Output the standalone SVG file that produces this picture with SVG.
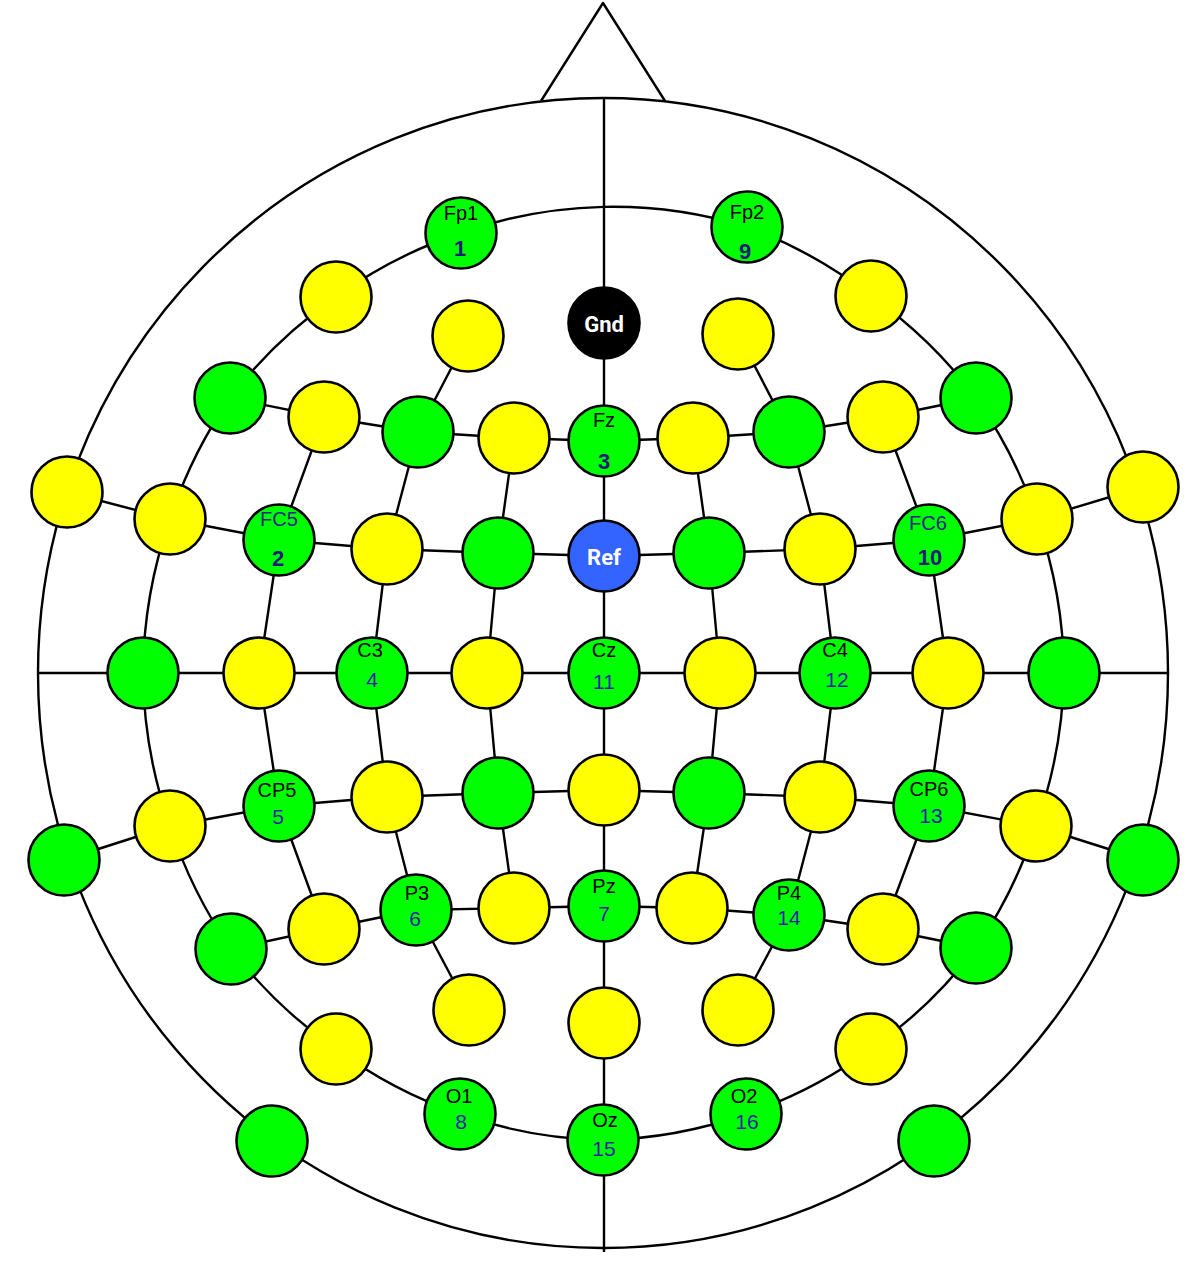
<svg xmlns="http://www.w3.org/2000/svg" width="1200" height="1269" viewBox="0 0 1200 1269">
<style>
.ln{fill:none;stroke:#000;stroke-width:2.4;stroke-linejoin:round}
.n{stroke:#000;stroke-width:2.6}
.g{fill:#00ff00}
.y{fill:#ffff00}
.k{fill:#000}
.b{fill:#3464ff}
.nm{font-family:"Liberation Sans",Arial,sans-serif;font-size:20px;fill:#000;text-anchor:middle}
.nmb{font-family:"Liberation Sans",Arial,sans-serif;font-size:20px;fill:#25258a;text-anchor:middle}
.num{font-family:"Liberation Sans",Arial,sans-serif;font-size:21px;fill:#2b1fa8;text-anchor:middle}
.numb{font-family:"Liberation Sans",Arial,sans-serif;font-size:22px;font-weight:bold;fill:#1c1c78;text-anchor:middle}
.wt{font-family:Roboto,"Liberation Sans",sans-serif;font-size:22px;font-weight:bold;fill:#fff;text-anchor:middle}
</style>
<rect width="1200" height="1269" fill="#fff"/>
<g id="connectors">
<polyline class="ln" points="541,101 603,3 665,101"/>
<ellipse class="ln" cx="603" cy="673" rx="565" ry="575"/>
<line class="ln" x1="604" y1="98" x2="604" y2="1252"/>
<line class="ln" x1="38" y1="673" x2="1168" y2="673"/>
<path class="ln" d="M747,227 A461,469 0 0 1 871,296 A461,469 0 0 1 976,398 A461,469 0 0 1 1037,519 A461,469 0 0 1 1064,673 A461,469 0 0 1 1036,826 A461,469 0 0 1 976,948 A461,469 0 0 1 871,1049 A461,469 0 0 1 746,1114 A461,469 0 0 1 603,1140 A461,469 0 0 1 460,1114 A461,469 0 0 1 336,1049 A461,469 0 0 1 231,949 A461,469 0 0 1 170,826 A461,469 0 0 1 143,673 A461,469 0 0 1 170,519 A461,469 0 0 1 230,398 A461,469 0 0 1 336,297 A461,469 0 0 1 461,233 A461,469 0 0 1 747,227"/>
<polyline class="ln" points="230,398 324,417 418,432 514,438 604,441 693,438 789,432 883,417 976,398"/>
<polyline class="ln" points="67,492 170,519 279,540 387,549 498,553 604,556 709,553 820,549 929,540 1037,519 1143,487"/>
<polyline class="ln" points="64,860 170,826 279,806 387,797 498,793 604,790 709,793 820,797 929,806 1036,826 1143,860"/>
<polyline class="ln" points="231,949 324,929 416,910 514,908 604,906 692,908 789,915 883,929 976,948"/>
<polyline class="ln" points="324,417 279,540 259,673 279,806 324,929"/>
<polyline class="ln" points="468,336 418,432 387,549 372,673 387,797 416,910 469,1010"/>
<polyline class="ln" points="514,438 498,553 487,673 498,793 514,908"/>
<polyline class="ln" points="693,438 709,553 720,673 709,793 692,908"/>
<polyline class="ln" points="738,334 789,432 820,549 835,673 820,797 789,915 738,1010"/>
<polyline class="ln" points="883,417 929,540 948,673 929,806 883,929"/>
</g>
<g id="Fp1"><circle class="n g" cx="461" cy="233" r="35.5"/><text class="nm" x="461" y="220">Fp1</text><text class="numb" x="460" y="256">1</text></g>
<g id="Fp2"><circle class="n g" cx="747" cy="227" r="35.5"/><text class="nm" x="747" y="219">Fp2</text><text class="numb" x="745" y="259">9</text></g>
<g id="Gnd"><circle class="n k" cx="604" cy="323" r="35.5"/><text class="wt" x="604" y="332">Gnd</text></g>
<g id="AF7"><circle class="n y" cx="336" cy="297" r="35.5"/></g>
<g id="AF8"><circle class="n y" cx="871" cy="296" r="35.5"/></g>
<g id="AF3"><circle class="n y" cx="468" cy="336" r="35.5"/></g>
<g id="AF4"><circle class="n y" cx="738" cy="334" r="35.5"/></g>
<g id="F7"><circle class="n g" cx="230" cy="398" r="35.5"/></g>
<g id="F5"><circle class="n y" cx="324" cy="417" r="35.5"/></g>
<g id="F3"><circle class="n g" cx="418" cy="432" r="35.5"/></g>
<g id="F1"><circle class="n y" cx="514" cy="438" r="35.5"/></g>
<g id="Fz"><circle class="n g" cx="604" cy="441" r="35.5"/><text class="nm" x="604" y="427">Fz</text><text class="numb" x="604" y="469">3</text></g>
<g id="F2"><circle class="n y" cx="693" cy="438" r="35.5"/></g>
<g id="F4"><circle class="n g" cx="789" cy="432" r="35.5"/></g>
<g id="F6"><circle class="n y" cx="883" cy="417" r="35.5"/></g>
<g id="F8"><circle class="n g" cx="976" cy="398" r="35.5"/></g>
<g id="F9"><circle class="n y" cx="67" cy="492" r="35.5"/></g>
<g id="FT7"><circle class="n y" cx="170" cy="519" r="35.5"/></g>
<g id="FC5"><circle class="n g" cx="279" cy="540" r="35.5"/><text class="nmb" x="279" y="526">FC5</text><text class="numb" x="278" y="566">2</text></g>
<g id="FC3"><circle class="n y" cx="387" cy="549" r="35.5"/></g>
<g id="FC1"><circle class="n g" cx="498" cy="553" r="35.5"/></g>
<g id="Ref"><circle class="n b" cx="604" cy="556" r="35.5"/><text class="wt" x="604" y="565">Ref</text></g>
<g id="FC2"><circle class="n g" cx="709" cy="553" r="35.5"/></g>
<g id="FC4"><circle class="n y" cx="820" cy="549" r="35.5"/></g>
<g id="FC6"><circle class="n g" cx="929" cy="540" r="35.5"/><text class="nmb" x="928" y="530">FC6</text><text class="numb" x="930" y="565">10</text></g>
<g id="FT8"><circle class="n y" cx="1037" cy="519" r="35.5"/></g>
<g id="F10"><circle class="n y" cx="1143" cy="487" r="35.5"/></g>
<g id="T7"><circle class="n g" cx="143" cy="673" r="35.5"/></g>
<g id="C5"><circle class="n y" cx="259" cy="673" r="35.5"/></g>
<g id="C3"><circle class="n g" cx="372" cy="673" r="35.5"/><text class="nm" x="370" y="657">C3</text><text class="num" x="372" y="687">4</text></g>
<g id="C1"><circle class="n y" cx="487" cy="673" r="35.5"/></g>
<g id="Cz"><circle class="n g" cx="604" cy="673" r="35.5"/><text class="nm" x="604" y="657">Cz</text><text class="num" x="604" y="689">11</text></g>
<g id="C2"><circle class="n y" cx="720" cy="673" r="35.5"/></g>
<g id="C4"><circle class="n g" cx="835" cy="673" r="35.5"/><text class="nm" x="835" y="657">C4</text><text class="num" x="837" y="687">12</text></g>
<g id="C6"><circle class="n y" cx="948" cy="673" r="35.5"/></g>
<g id="T8"><circle class="n g" cx="1064" cy="673" r="35.5"/></g>
<g id="TP9"><circle class="n g" cx="64" cy="860" r="35.5"/></g>
<g id="TP7"><circle class="n y" cx="170" cy="826" r="35.5"/></g>
<g id="CP5"><circle class="n g" cx="279" cy="806" r="35.5"/><text class="nm" x="277" y="797">CP5</text><text class="num" x="278" y="824">5</text></g>
<g id="CP3"><circle class="n y" cx="387" cy="797" r="35.5"/></g>
<g id="CP1"><circle class="n g" cx="498" cy="793" r="35.5"/></g>
<g id="CPz"><circle class="n y" cx="604" cy="790" r="35.5"/></g>
<g id="CP2"><circle class="n g" cx="709" cy="793" r="35.5"/></g>
<g id="CP4"><circle class="n y" cx="820" cy="797" r="35.5"/></g>
<g id="CP6"><circle class="n g" cx="929" cy="806" r="35.5"/><text class="nm" x="929" y="796">CP6</text><text class="num" x="931" y="823">13</text></g>
<g id="TP8"><circle class="n y" cx="1036" cy="826" r="35.5"/></g>
<g id="TP10"><circle class="n g" cx="1143" cy="860" r="35.5"/></g>
<g id="P7"><circle class="n g" cx="231" cy="949" r="35.5"/></g>
<g id="P5"><circle class="n y" cx="324" cy="929" r="35.5"/></g>
<g id="P3"><circle class="n g" cx="416" cy="910" r="35.5"/><text class="nm" x="417" y="900">P3</text><text class="num" x="415" y="926">6</text></g>
<g id="P1"><circle class="n y" cx="514" cy="908" r="35.5"/></g>
<g id="Pz"><circle class="n g" cx="604" cy="906" r="35.5"/><text class="nm" x="604" y="893">Pz</text><text class="num" x="604" y="921">7</text></g>
<g id="P2"><circle class="n y" cx="692" cy="908" r="35.5"/></g>
<g id="P4"><circle class="n g" cx="789" cy="915" r="35.5"/><text class="nm" x="789" y="900">P4</text><text class="num" x="789" y="925">14</text></g>
<g id="P6"><circle class="n y" cx="883" cy="929" r="35.5"/></g>
<g id="P8"><circle class="n g" cx="976" cy="948" r="35.5"/></g>
<g id="PO3"><circle class="n y" cx="469" cy="1010" r="35.5"/></g>
<g id="POz"><circle class="n y" cx="604" cy="1023" r="35.5"/></g>
<g id="PO4"><circle class="n y" cx="738" cy="1010" r="35.5"/></g>
<g id="PO7"><circle class="n y" cx="336" cy="1049" r="35.5"/></g>
<g id="PO8"><circle class="n y" cx="871" cy="1049" r="35.5"/></g>
<g id="O1"><circle class="n g" cx="460" cy="1114" r="35.5"/><text class="nm" x="459" y="1103">O1</text><text class="num" x="461" y="1129">8</text></g>
<g id="Oz"><circle class="n g" cx="603" cy="1140" r="35.5"/><text class="nm" x="605" y="1127">Oz</text><text class="num" x="604" y="1156">15</text></g>
<g id="O2"><circle class="n g" cx="746" cy="1114" r="35.5"/><text class="nm" x="744" y="1103">O2</text><text class="num" x="747" y="1129">16</text></g>
<g id="PO9"><circle class="n g" cx="272" cy="1141" r="35.5"/></g>
<g id="PO10"><circle class="n g" cx="934" cy="1141" r="35.5"/></g>
</svg>
